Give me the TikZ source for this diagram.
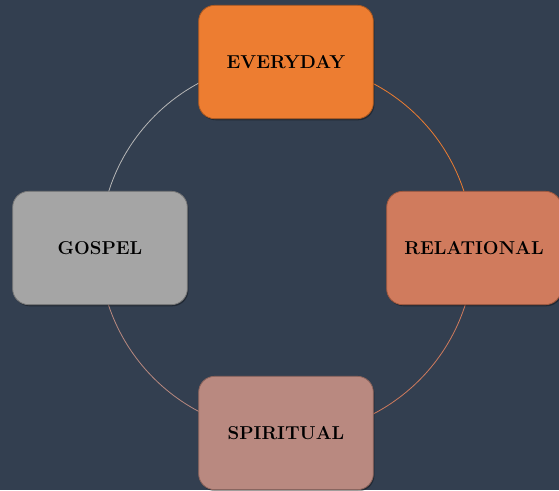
\documentclass[tikz,border=0pt]{standalone}
\usetikzlibrary{shadows}
\definecolor{bgslate}{RGB}{51,63,80}
\definecolor{evfill}{RGB}{237,125,49}
\definecolor{evline}{RGB}{174,90,33}
\definecolor{refill}{RGB}{208,123,93}
\definecolor{reline}{RGB}{160,88,62}
\definecolor{spfill}{RGB}{185,137,128}
\definecolor{spline}{RGB}{140,100,92}
\definecolor{gofill}{RGB}{165,165,165}
\definecolor{goline}{RGB}{120,120,120}
\pgfdeclarelayer{back}
\pgfdeclarelayer{ring}
\pgfsetlayers{back,ring,main}
\tikzset{every picture/.style={line width=0.75pt}}
\tikzset{
  cyclebox/.style={rounded corners=12pt, minimum width=131pt, minimum height=85pt,
    inner sep=0.75pt, align=center, line width=0.6pt,
    font=\fontsize{14}{16}\selectfont\bfseries,
    drop shadow={shadow xshift=0.8pt, shadow yshift=-1.2pt, opacity=0.35, fill=black}},
  ringarc/.style={line width=0.6pt}
}

\begin{document}
\begin{tikzpicture}[x=0.75pt,y=0.75pt,yscale=-1,xscale=1]
\useasboundingbox (0,0) rectangle (559,490);
\begin{pgfonlayer}{back}
%Background
\fill [bgslate] (0,0) rectangle (559,490);
\end{pgfonlayer}

%Shape: Rounded Rect [EVERYDAY]
\node [cyclebox, fill=evfill, draw=evline] (everyday) at (286,62) {EVERYDAY};
%Shape: Rounded Rect [RELATIONAL]
\node [cyclebox, fill=refill, draw=reline] (relational) at (474,248) {RELATIONAL};
%Shape: Rounded Rect [SPIRITUAL]
\node [cyclebox, fill=spfill, draw=spline] (spiritual) at (286,433) {SPIRITUAL};
%Shape: Rounded Rect [GOSPEL]
\node [cyclebox, fill=gofill, draw=goline] (gospel) at (100,248) {GOSPEL};

\begin{pgfonlayer}{ring}
%Arcs
\draw [ringarc, draw=evfill] (everyday.center) arc [start angle=270, end angle=360, radius=187];
\draw [ringarc, draw=refill] (relational.center) arc [start angle=0, end angle=90, radius=187];
\draw [ringarc, draw=spfill] (spiritual.center) arc [start angle=90, end angle=180, radius=187];
\draw [ringarc, draw=gofill!80!white] (gospel.center) arc [start angle=180, end angle=270, radius=187];
\end{pgfonlayer}

\end{tikzpicture}
\end{document}
